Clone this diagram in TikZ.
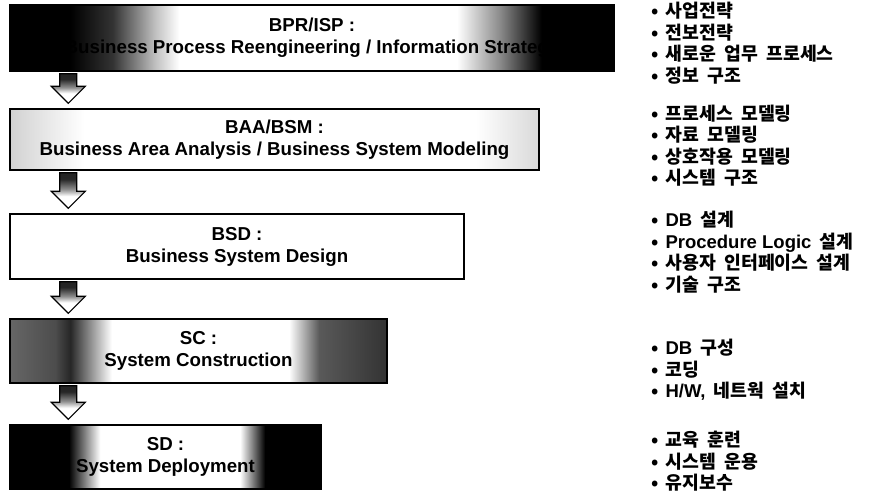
\documentclass[tikz,border=0pt]{standalone}
\usepackage{fontspec}
\setmainfont{Liberation Sans}
\newfontfamily\hangul{Noto Sans CJK KR}[WordSpace=2]
\usetikzlibrary{calc}

% edge fades of the stage boxes
\pgfdeclarehorizontalshading{bprfade}{100bp}{color(0bp)=(black); color(30bp)=(black);
  color(33.5bp)=(black!80); color(37bp)=(black!25); color(39bp)=(white); color(62bp)=(white);
  color(65.5bp)=(black!45); color(69bp)=(black); color(100bp)=(black)}
\pgfdeclarehorizontalshading{baafade}{100bp}{color(0bp)=(black!18); color(25bp)=(black!18);
  color(32bp)=(white); color(69bp)=(white); color(75bp)=(black!15); color(100bp)=(black!15)}
\pgfdeclarehorizontalshading{scfade}{100bp}{color(0bp)=(black!60); color(25bp)=(black!60);
  color(31bp)=(black!70); color(33bp)=(black!85); color(38.5bp)=(white); color(62bp)=(white);
  color(66bp)=(black!65); color(75bp)=(black!80); color(100bp)=(black!80)}
\pgfdeclarehorizontalshading{sdfade}{100bp}{color(0bp)=(black); color(34.5bp)=(black);
  color(39.5bp)=(white); color(62bp)=(white); color(66bp)=(black); color(100bp)=(black)}
\pgfdeclareverticalshading{arrowfade}{100bp}{color(0bp)=(white); color(42bp)=(white);
  color(52bp)=(black!45); color(66bp)=(black!85); color(100bp)=(black!90)}

\newcommand\engtxt[1]{{\rmfamily\bfseries\fontsize{18.5}{20}\selectfont #1}}

\begin{document}
\begin{tikzpicture}[x=1pt,y=-1pt,
    stage/.style={draw, line width=1.4pt, inner sep=0pt, align=center,
      font=\fontsize{18.7}{22}\selectfont\bfseries},
    arrowbody/.style={draw, line width=1.2pt, shade, shading=arrowfade},
    task/.style={anchor=base west, inner sep=0pt,
      font=\hangul\bfseries\fontsize{18.3}{20}\selectfont}]
  \def\stagearrow#1#2{%
    \path[arrowbody] let \p1=(#1.south west), \p2=(#2.north west) in
      (\x1+50.5pt,\y1-2pt) -- (\x1+67.5pt,\y1-2pt) -- (\x1+67.5pt,\y2+22pt)
      -- (\x1+76pt,\y2+22pt) -- (\x1+59pt,\y2+5pt) -- (\x1+42pt,\y2+22pt)
      -- (\x1+50.5pt,\y2+22pt) -- cycle;}
  \useasboundingbox (0,0) rectangle (872,490);
  % stages
  \node[stage, shade, shading=bprfade, minimum width=604, minimum height=66] (bpr) at (312,38)
    {BPR/ISP :\\ Business Process Reengineering / Information Strategy};
  \node[stage, shade, shading=baafade, minimum width=529, minimum height=61] (baa) at (274.5,139.5)
    {BAA/BSM :\\ Business Area Analysis / Business System Modeling};
  \node[stage, fill=white, minimum width=454, minimum height=65] (bsd) at (237,246.5)
    {BSD :\\ Business System Design};
  \node[stage, shade, shading=scfade, minimum width=377, minimum height=64] (sc) at (198.5,351)
    {SC :\\ System Construction};
  \node[stage, shade, shading=sdfade, minimum width=311, minimum height=64] (sd) at (165.5,457)
    {SD :\\ System Deployment};
  % flow between stages
  \stagearrow{bpr}{baa}
  \stagearrow{baa}{bsd}
  \stagearrow{bsd}{sc}
  \stagearrow{sc}{sd}
  % tasks of each stage
  \foreach \txt [count=\i from 0] in {사업전략,전보전략,새로운 업무 프로세스,정보 구조}
    \node[task] (isp\i) at (651,17.5+21.5*\i) {\textbullet\hspace{7pt}\txt};
  \foreach \txt [count=\i from 0] in {프로세스 모델링,자료 모델링,상호작용 모델링,시스템 구조}
    \node[task] (bsm\i) at (651,120+21.5*\i) {\textbullet\hspace{7pt}\txt};
  \foreach \txt [count=\i from 0] in {\engtxt{DB} 설계,\engtxt{Procedure Logic} 설계,사용자 인터페이스 설계,기술 구조}
    \node[task] (des\i) at (651,226.5+21.5*\i) {\textbullet\hspace{7pt}\txt};
  \foreach \txt [count=\i from 0] in {\engtxt{DB} 구성,코딩,{\engtxt{H/W,} 네트웍 설치}}
    \node[task] (con\i) at (651,354.5+21.5*\i) {\textbullet\hspace{7pt}\txt};
  \foreach \txt [count=\i from 0] in {교육 훈련,시스템 운용,유지보수}
    \node[task] (dep\i) at (651,446.5+21.5*\i) {\textbullet\hspace{7pt}\txt};
\end{tikzpicture}
\end{document}
